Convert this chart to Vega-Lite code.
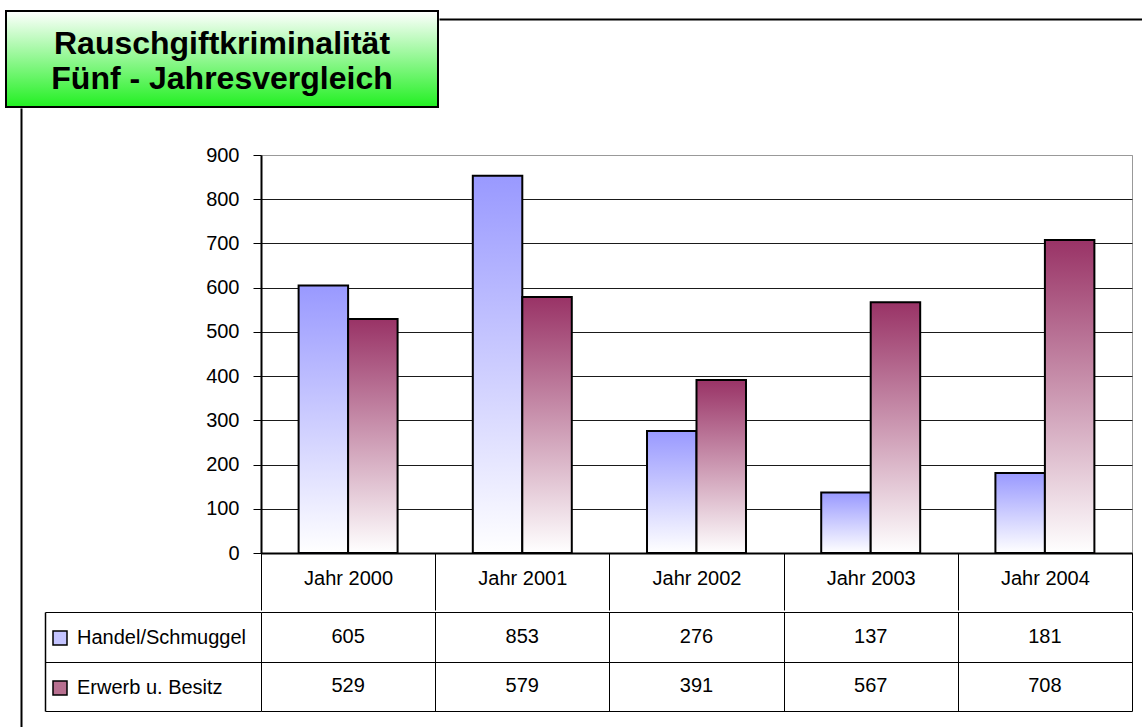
{
  "$schema": "https://vega.github.io/schema/vega-lite/v6.json",
  "padding": {"left": 5, "top": 10, "right": 0, "bottom": 0},
  "background": "white",
  "config": {"view": {"stroke": null}, "font": "Liberation Sans", "concat": {"spacing": 0}},
  "datasets": {
    "crime": [
      {"year": "Jahr 2000", "series": "Handel/Schmuggel", "value": 605},
      {"year": "Jahr 2001", "series": "Handel/Schmuggel", "value": 853},
      {"year": "Jahr 2002", "series": "Handel/Schmuggel", "value": 276},
      {"year": "Jahr 2003", "series": "Handel/Schmuggel", "value": 137},
      {"year": "Jahr 2004", "series": "Handel/Schmuggel", "value": 181},
      {"year": "Jahr 2000", "series": "Erwerb u. Besitz", "value": 529},
      {"year": "Jahr 2001", "series": "Erwerb u. Besitz", "value": 579},
      {"year": "Jahr 2002", "series": "Erwerb u. Besitz", "value": 391},
      {"year": "Jahr 2003", "series": "Erwerb u. Besitz", "value": 567},
      {"year": "Jahr 2004", "series": "Erwerb u. Besitz", "value": 708}
    ]
  },
  "spacing": 0,
  "vconcat": [
    {
      "spacing": 0,
      "hconcat": [
        {
          "width": 432,
          "height": 96,
          "view": {
            "fill": {"gradient": "linear", "x1": 0, "y1": 0, "x2": 0, "y2": 1,
              "stops": [{"offset": 0, "color": "#ffffff"}, {"offset": 1, "color": "#22f022"}]},
            "stroke": "#000000",
            "strokeWidth": 2
          },
          "data": {"values": [{}]},
          "mark": {"type": "text", "fontSize": 32, "fontWeight": "bold", "lineHeight": 35, "align": "center", "baseline": "top", "dy": -30, "color": "#000000"},
          "encoding": {"text": {"value": ["Rauschgiftkriminalität", "Fünf - Jahresvergleich"]}}
        },
        {
          "width": 703,
          "height": 96,
          "data": {"values": []},
          "mark": {"type": "point", "opacity": 0, "size": 0},
          "encoding": {
            "x": {"datum": 0, "type": "quantitative",
              "axis": {"orient": "top", "offset": -8, "labels": false, "ticks": false, "grid": false, "domain": true, "domainColor": "#000000", "domainWidth": 2, "title": null}}
          }
        }
      ]
    },
    {
      "spacing": 0,
      "hconcat": [
        {
          "width": 38,
          "height": 619,
          "data": {"values": []},
          "mark": {"type": "point", "opacity": 0, "size": 0},
          "encoding": {
            "y": {"datum": 0, "type": "quantitative",
              "axis": {"orient": "left", "offset": -15, "labels": false, "ticks": false, "grid": false, "domain": true, "domainColor": "#000000", "domainWidth": 2, "title": null}}
          }
        },
        {
          "spacing": 0,
          "resolve": {"scale": {"color": "independent"}, "legend": {"color": "independent"}},
          "vconcat": [
            {
              "width": 871,
              "height": 36,
              "data": {"values": []},
              "mark": {"type": "point", "opacity": 0, "size": 0},
              "encoding": {}
            },
            {
              "width": 871,
              "height": 398,
              "data": {"name": "crime"},
              "view": {"stroke": "#999999", "strokeWidth": 1},
              "encoding": {
                "x": {"field": "year", "type": "nominal", "sort": null,
                  "scale": {"paddingInner": 0, "paddingOuter": 0},
                  "axis": {"orient": "bottom", "tickBand": "extent", "tickSize": 57, "tickColor": "#000000", "tickWidth": 1,
                    "labelPadding": -32, "labelBaseline": "middle", "labelAngle": 0, "labelFontSize": 20, "labelColor": "#000000",
                    "domainColor": "#000000", "domainWidth": 2, "grid": false, "title": null}},
                "xOffset": {"field": "series", "type": "nominal",
                  "scale": {"domain": ["Handel/Schmuggel", "Erwerb u. Besitz"], "paddingInner": 0, "paddingOuter": 0.76}},
                "y": {"field": "value", "type": "quantitative",
                  "scale": {"domain": [0, 900], "nice": false},
                  "axis": {"values": [0, 100, 200, 300, 400, 500, 600, 700, 800, 900], "grid": true,
                    "gridColor": {"condition": {"test": "datum.value === 900", "value": "#999999"}, "value": "#1a1a1a"},
                    "gridWidth": 1, "tickSize": 8, "tickColor": "#000000", "labelPadding": 14, "labelFontSize": 20, "labelColor": "#000000",
                    "domainColor": "#000000", "domainWidth": 2, "title": null}}
              },
              "layer": [
                {
                  "transform": [{"filter": "datum.series === 'Handel/Schmuggel'"}],
                  "mark": {"type": "bar", "stroke": "#000000", "strokeWidth": 2,
                    "fill": {"gradient": "linear", "x1": 0, "y1": 0, "x2": 0, "y2": 1,
                      "stops": [{"offset": 0, "color": "#9999ff"}, {"offset": 1, "color": "#ffffff"}]}}
                },
                {
                  "transform": [{"filter": "datum.series === 'Erwerb u. Besitz'"}],
                  "mark": {"type": "bar", "stroke": "#000000", "strokeWidth": 2,
                    "fill": {"gradient": "linear", "x1": 0, "y1": 0, "x2": 0, "y2": 1,
                      "stops": [{"offset": 0, "color": "#993366"}, {"offset": 1, "color": "#ffffff"}]}}
                }
              ]
            },
            {
              "width": 871,
              "height": 99,
              "data": {"name": "crime"},
              "encoding": {
                "x": {"field": "year", "type": "nominal", "sort": null,
                  "scale": {"paddingInner": 0, "paddingOuter": 0},
                  "axis": {"orient": "bottom", "domain": false, "ticks": false, "labels": false, "grid": true, "tickBand": "extent",
                    "gridColor": "#000000", "gridWidth": 1, "title": null}},
                "y": {"field": "series", "type": "nominal", "sort": ["Handel/Schmuggel", "Erwerb u. Besitz"],
                  "scale": {"paddingInner": 0, "paddingOuter": 0},
                  "axis": {"orient": "left", "offset": 216, "domain": true, "domainColor": "#000000", "domainWidth": 1.5,
                    "ticks": true, "tickSize": -216, "tickBand": "extent", "tickColor": "#000000", "tickWidth": 1,
                    "labels": false, "grid": true, "gridColor": "#000000", "gridWidth": 1, "title": null}}
              },
              "layer": [
                {
                  "mark": {"type": "text", "fontSize": 20, "color": "#000000", "baseline": "middle"},
                  "encoding": {"text": {"field": "value", "type": "quantitative"}}
                },
                {
                  "mark": {"type": "square", "opacity": 0, "size": 10},
                  "encoding": {
                    "color": {"field": "series", "type": "nominal",
                      "scale": {"domain": ["Handel/Schmuggel", "Erwerb u. Besitz"], "range": ["#c4c4ff", "#b87090"]},
                      "legend": {"orient": "none", "legendX": -211, "legendY": 16, "title": null, "padding": 0,
                        "symbolType": "square", "symbolSize": 196, "symbolStrokeColor": "#000000", "symbolStrokeWidth": 1.5,
                        "symbolOpacity": 1, "labelFontSize": 20, "labelColor": "#000000", "labelOffset": 7, "rowPadding": 30,
                        "labelLimit": 400, "labelFont": "Liberation Sans"}}
                  }
                }
              ]
            }
          ]
        }
      ]
    }
  ]
}
